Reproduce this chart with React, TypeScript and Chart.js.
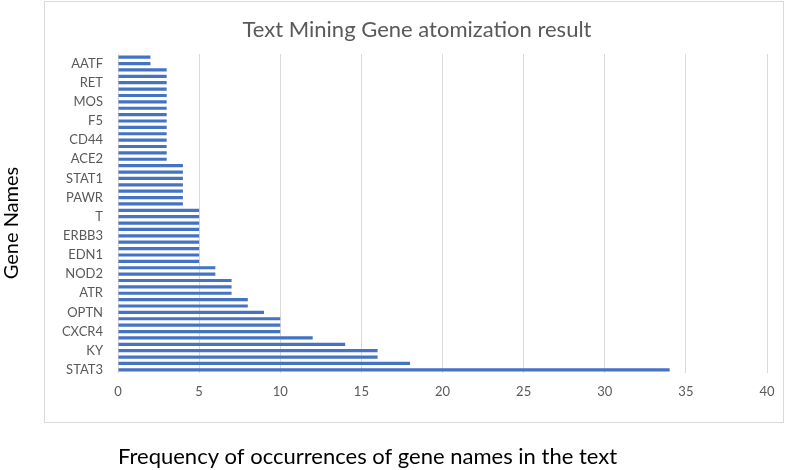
import React, { useEffect, useRef } from "react";
import { Chart, registerables } from "chart.js";

Chart.register(...registerables);

// Gene names shown on the axis (every third category, from bottom to top)
const shownGenes = [
  "STAT3", "KY", "CXCR4", "OPTN", "ATR", "NOD2", "EDN1", "ERBB3", "T",
  "PAWR", "STAT1", "ACE2", "CD44", "F5", "MOS", "RET", "AATF",
];

// Frequencies, bottom (STAT3) to top
const frequencies = [
  34, 18, 16, 16, 14, 12, 10, 10, 10, 9, 8, 8,
  7, 7, 7, 6, 6,
  5, 5, 5, 5, 5, 5, 5, 5, 5,
  4, 4, 4, 4, 4, 4, 4,
  3, 3, 3, 3, 3, 3, 3, 3, 3, 3, 3, 3, 3, 3, 3,
  2, 2,
];

const xTicksMax = 40;
const xTickStep = 5;

const chartTitle = "Text Mining Gene atomization result";
const xTitle = "Frequency of occurrences of gene names in the text";
const yTitle = "Gene Names";

const labels = frequencies.map((_, i) => (i % 3 === 0 ? shownGenes[i / 3] ?? "" : ""));

const FONT = "Lato, 'Open Sans', sans-serif";

const framePlugin = {
  id: "frame",
  beforeDraw(chart: any) {
    const ctx = chart.ctx;
    ctx.save();
    ctx.fillStyle = "#ffffff";
    ctx.fillRect(0, 0, chart.width, chart.height);
    ctx.strokeStyle = "#d9d9d9";
    ctx.lineWidth = 1;
    ctx.strokeRect(44.5, 1.5, 739, 421);
    ctx.fillStyle = "#595959";
    ctx.font = `22px ${FONT}`;
    ctx.textAlign = "center";
    ctx.textBaseline = "middle";
    ctx.fillText(chartTitle, 417, 30);
    ctx.fillStyle = "#000000";
    ctx.font = `20px ${FONT}`;
    ctx.translate(12, 223);
    ctx.rotate(-Math.PI / 2);
    ctx.fillText(yTitle, 0, 0);
    ctx.restore();
  },
};

export default function App() {
  const ref = useRef<HTMLCanvasElement | null>(null);

  useEffect(() => {
    document.body.style.margin = "0";
    if (!ref.current) return;
    const chart = new Chart(ref.current, {
      type: "bar",
      data: {
        labels,
        datasets: [
          {
            data: frequencies,
            backgroundColor: "#4472C4",
            borderWidth: 0,
            categoryPercentage: 1,
            barPercentage: 0.5,
          },
        ],
      },
      options: {
        indexAxis: "y",
        animation: false,
        responsive: false,
        maintainAspectRatio: false,
        layout: { padding: { top: 54, right: 19, bottom: 0, left: 0 } },
        plugins: {
          legend: { display: false },
          tooltip: { enabled: false },
          title: { display: false },
        },
        scales: {
          x: {
            min: 0,
            max: xTicksMax,
            ticks: {
              stepSize: xTickStep,
              color: "#595959",
              font: { family: FONT, size: 13 },
              padding: 11,
            },
            grid: { color: "#d9d9d9", drawTicks: false },
            border: { display: false },
            title: {
              display: true,
              text: xTitle,
              align: "start",
              color: "#000000",
              font: { family: FONT, size: 22 },
              padding: { top: 0, bottom: 0 },
            },
            afterFit(scale: any) {
              scale.height = 97;
            },
          },
          y: {
            reverse: true,
            ticks: {
              autoSkip: false,
              color: "#595959",
              font: { family: FONT, size: 13 },
              padding: 15,
            },
            grid: { display: false, drawTicks: false },
            border: { display: false },
            title: { display: false },
            afterFit(scale: any) {
              scale.width = 118;
            },
          },
        },
      },
      plugins: [framePlugin],
    });
    return () => chart.destroy();
  }, []);

  return (
    <div style={{ position: "absolute", left: 0, top: 0, width: 786, height: 470 }}>
      <canvas ref={ref} width={786} height={470} />
    </div>
  );
}
